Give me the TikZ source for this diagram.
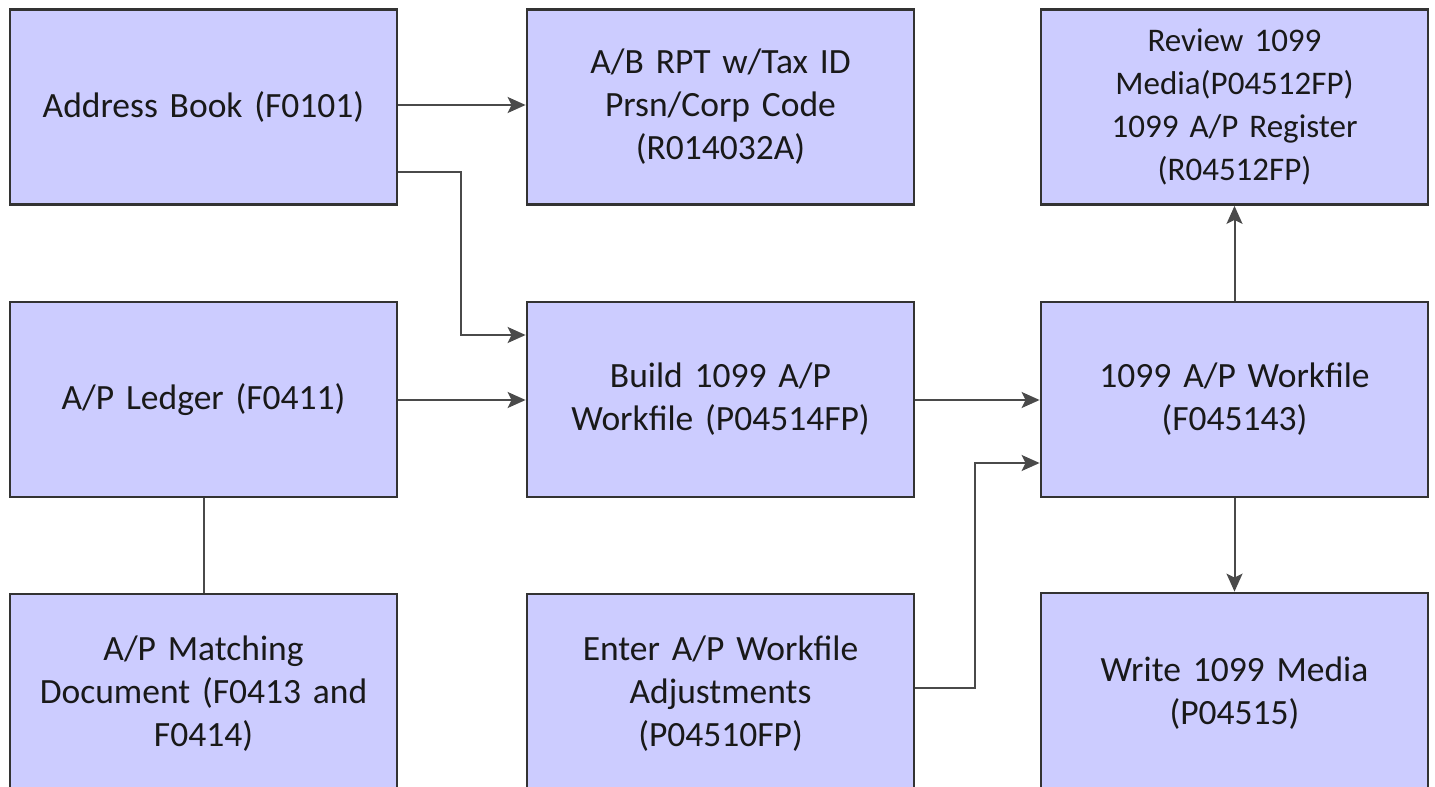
\documentclass[tikz,border=0pt]{standalone}
\usepackage{fontspec}
\setmainfont{Carlito}
\usetikzlibrary{arrows.meta}
\definecolor{boxfill}{HTML}{CCCCFF}
\definecolor{boxline}{HTML}{333333}
\definecolor{conn}{HTML}{4A4A4A}
\begin{document}
\begin{tikzpicture}[x=1pt,y=-1pt,
  box/.style={draw=boxline,line width=2.8pt,fill=boxfill,minimum width=387pt,minimum height=195pt,
    text width=375pt,align=center,inner sep=0pt,text=black!90,
    font=\fontsize{35.5}{43}\selectfont},
  smallbox/.style={box,font=\fontsize{33}{43}\selectfont},
  tallbox/.style={box,minimum height=200pt},
  conn/.style={draw=conn,line width=2pt,-{Stealth[length=18pt,width=16pt,inset=4pt]}},
  plain/.style={draw=conn,line width=2pt}]
\useasboundingbox (0,0) rectangle (1435,787);
\clip (0,0) rectangle (1435,787);
\node[box] (ab) at (203.5,107) {Address Book (F0101)};
\node[box] (abrpt) at (720.5,107) {A/B RPT w/Tax ID\\Prsn/Corp Code\\(R014032A)};
\node[smallbox] (rev) at (1234.5,107) {Review 1099\\Media(P04512FP)\\1099 A/P Register\\(R04512FP)};
\node[box] (apl) at (203.5,399.5) {A/P Ledger (F0411)};
\node[box] (build) at (720.5,399.5) {Build 1099 A/P\\Workfile (P04514FP)};
\node[box] (wf) at (1234.5,399.5) {1099 A/P Workfile\\(F045143)};
\node[tallbox] (match) at (203.5,694) {A/P Matching\\Document (F0413 and\\F0414)};
\node[tallbox] (enter) at (720.5,694) {Enter A/P Workfile\\Adjustments\\(P04510FP)};
\node[tallbox] (write) at (1234.5,693) {Write 1099 Media\\(P04515)};
\draw[conn] (ab.east |- 0,105) -- (abrpt.west |- 0,105);
\draw[conn] (ab.east |- 0,172) -| (461,335) -- (build.west |- 0,335);
\draw[conn] (apl.east |- 0,400) -- (build.west |- 0,400);
\draw[conn] (build.east |- 0,400) -- (wf.west |- 0,400);
\draw[conn] (enter.east |- 0,688) -| (975,463) -- (wf.west |- 0,463);
\draw[conn] (wf.north) -- (rev.south);
\draw[conn] (wf.south) -- (write.north);
\draw[plain] (apl.south) -- (match.north);
\end{tikzpicture}
\end{document}
